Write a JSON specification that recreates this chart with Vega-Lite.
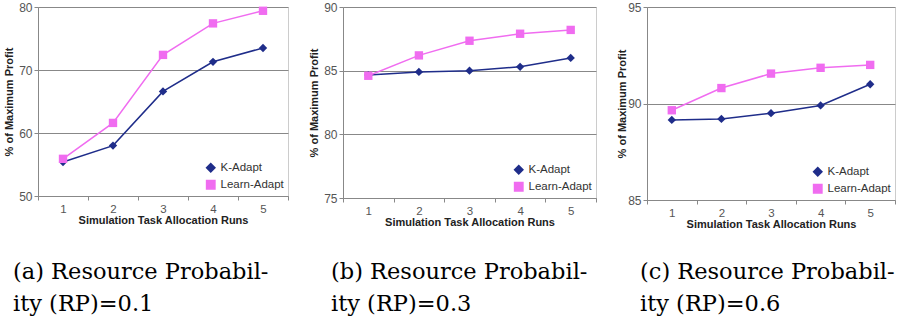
{
  "$schema": "https://vega.github.io/schema/vega-lite/v6.json",
  "background": "white",
  "padding": {"left": 3, "top": 0, "right": 0, "bottom": 0},
  "spacing": 19,
  "config": {
    "font": "Liberation Sans",
    "view": {"stroke": "#cccccc", "strokeWidth": 1},
    "axis": {
      "domainColor": "#888888",
      "tickColor": "#888888",
      "tickSize": 4,
      "labelColor": "#555555",
      "labelFontSize": 12,
      "labelFont": "Liberation Sans",
      "titleFont": "Liberation Sans",
      "titleFontSize": 11,
      "titleFontWeight": "bold",
      "titleColor": "#222222"
    },
    "axisY": {"gridColor": "#888888", "gridOpacity": 1, "gridWidth": 1, "labelPadding": 2, "titlePadding": 4},
    "axisX": {"grid": false, "labelAngle": 0, "labelPadding": 3, "titlePadding": 0, "tickBand": "extent", "labelFontSize": 11.5},
    "legend": {
      "orient": "bottom-right",
      "offset": 4,
      "labelFont": "Liberation Sans",
      "labelFontSize": 11.5,
      "labelColor": "#333333",
      "symbolSize": 70,
      "rowPadding": 2,
      "labelOffset": 4
    }
  },
  "datasets": {
    "a": [
      {"run": 1, "series": "K-Adapt", "value": 55.4},
      {"run": 2, "series": "K-Adapt", "value": 58.0},
      {"run": 3, "series": "K-Adapt", "value": 66.6},
      {"run": 4, "series": "K-Adapt", "value": 71.3},
      {"run": 5, "series": "K-Adapt", "value": 73.5},
      {"run": 1, "series": "Learn-Adapt", "value": 55.9},
      {"run": 2, "series": "Learn-Adapt", "value": 61.6},
      {"run": 3, "series": "Learn-Adapt", "value": 72.4},
      {"run": 4, "series": "Learn-Adapt", "value": 77.4},
      {"run": 5, "series": "Learn-Adapt", "value": 79.4}
    ],
    "b": [
      {"run": 1, "series": "K-Adapt", "value": 84.65},
      {"run": 2, "series": "K-Adapt", "value": 84.9},
      {"run": 3, "series": "K-Adapt", "value": 85.0},
      {"run": 4, "series": "K-Adapt", "value": 85.3},
      {"run": 5, "series": "K-Adapt", "value": 86.0},
      {"run": 1, "series": "Learn-Adapt", "value": 84.6},
      {"run": 2, "series": "Learn-Adapt", "value": 86.2},
      {"run": 3, "series": "Learn-Adapt", "value": 87.35},
      {"run": 4, "series": "Learn-Adapt", "value": 87.9},
      {"run": 5, "series": "Learn-Adapt", "value": 88.2}
    ],
    "c": [
      {"run": 1, "series": "K-Adapt", "value": 89.15},
      {"run": 2, "series": "K-Adapt", "value": 89.2},
      {"run": 3, "series": "K-Adapt", "value": 89.5},
      {"run": 4, "series": "K-Adapt", "value": 89.9},
      {"run": 5, "series": "K-Adapt", "value": 91.0},
      {"run": 1, "series": "Learn-Adapt", "value": 89.65},
      {"run": 2, "series": "Learn-Adapt", "value": 90.8},
      {"run": 3, "series": "Learn-Adapt", "value": 91.55},
      {"run": 4, "series": "Learn-Adapt", "value": 91.85},
      {"run": 5, "series": "Learn-Adapt", "value": 92.0}
    ]
  },
  "resolve": {
    "scale": {"y": "independent", "x": "independent", "color": "independent", "shape": "independent"},
    "legend": {"shape": "independent", "color": "independent"}
  },
  "hconcat": [
    {
      "width": 250, "height": 189,
      "data": {"name": "a"},
      "title": {"text": ["(a) Resource Probabil-", "ity (RP)=0.1"], "orient": "bottom", "anchor": "start", "frame": "group", "dx": -25, "offset": 35, "lineHeight": 32, "font": "DejaVu Serif", "fontSize": 22.5, "fontWeight": "normal", "color": "#000000"},
      "layer": [
        {
          "mark": {"type": "line", "strokeWidth": 1.5},
          "encoding": {
            "x": {"field": "run", "type": "ordinal", "scale": {"type": "band", "paddingInner": 0, "paddingOuter": 0}, "title": "Simulation Task Allocation Runs"},
            "y": {"field": "value", "type": "quantitative", "scale": {"domain": [50, 80], "nice": false, "zero": false}, "axis": {"values": [50, 60, 70, 80]}, "title": "% of Maximum Profit"},
            "color": {"field": "series", "type": "nominal", "scale": {"domain": ["K-Adapt", "Learn-Adapt"], "range": ["#1f2d8a", "#f06cf0"]}, "legend": {"title": null}}
          }
        },
        {
          "mark": {"type": "point", "filled": true, "opacity": 1, "size": 70},
          "encoding": {
            "x": {"field": "run", "type": "ordinal"},
            "y": {"field": "value", "type": "quantitative"},
            "color": {"field": "series", "type": "nominal", "legend": {"title": null}},
            "shape": {"field": "series", "type": "nominal", "scale": {"domain": ["K-Adapt", "Learn-Adapt"], "range": ["diamond", "square"]}, "legend": null}
          }
        }
      ]
    },
    {
      "width": 253, "height": 191,
      "data": {"name": "b"},
      "title": {"text": ["(b) Resource Probabil-", "ity (RP)=0.3"], "orient": "bottom", "anchor": "start", "frame": "group", "dx": -12, "offset": 33, "lineHeight": 32, "font": "DejaVu Serif", "fontSize": 22.5, "fontWeight": "normal", "color": "#000000"},
      "layer": [
        {
          "mark": {"type": "line", "strokeWidth": 1.5},
          "encoding": {
            "x": {"field": "run", "type": "ordinal", "scale": {"type": "band", "paddingInner": 0, "paddingOuter": 0}, "title": "Simulation Task Allocation Runs"},
            "y": {"field": "value", "type": "quantitative", "scale": {"domain": [75, 90], "nice": false, "zero": false}, "axis": {"values": [75, 80, 85, 90]}, "title": "% of Maximum Profit"},
            "color": {"field": "series", "type": "nominal", "scale": {"domain": ["K-Adapt", "Learn-Adapt"], "range": ["#1f2d8a", "#f06cf0"]}, "legend": {"title": null}}
          }
        },
        {
          "mark": {"type": "point", "filled": true, "opacity": 1, "size": 70},
          "encoding": {
            "x": {"field": "run", "type": "ordinal"},
            "y": {"field": "value", "type": "quantitative"},
            "color": {"field": "series", "type": "nominal", "legend": {"title": null}},
            "shape": {"field": "series", "type": "nominal", "scale": {"domain": ["K-Adapt", "Learn-Adapt"], "range": ["diamond", "square"]}, "legend": null}
          }
        }
      ]
    },
    {
      "width": 248, "height": 193,
      "data": {"name": "c"},
      "title": {"text": ["(c) Resource Probabil-", "ity (RP)=0.6"], "orient": "bottom", "anchor": "start", "frame": "group", "dx": -7, "offset": 31, "lineHeight": 32, "font": "DejaVu Serif", "fontSize": 22.5, "fontWeight": "normal", "color": "#000000"},
      "layer": [
        {
          "mark": {"type": "line", "strokeWidth": 1.5},
          "encoding": {
            "x": {"field": "run", "type": "ordinal", "scale": {"type": "band", "paddingInner": 0, "paddingOuter": 0}, "title": "Simulation Task Allocation Runs"},
            "y": {"field": "value", "type": "quantitative", "scale": {"domain": [85, 95], "nice": false, "zero": false}, "axis": {"values": [85, 90, 95], "titlePadding": 0}, "title": "% of Maximum Profit"},
            "color": {"field": "series", "type": "nominal", "scale": {"domain": ["K-Adapt", "Learn-Adapt"], "range": ["#1f2d8a", "#f06cf0"]}, "legend": {"title": null}}
          }
        },
        {
          "mark": {"type": "point", "filled": true, "opacity": 1, "size": 70},
          "encoding": {
            "x": {"field": "run", "type": "ordinal"},
            "y": {"field": "value", "type": "quantitative"},
            "color": {"field": "series", "type": "nominal", "legend": {"title": null}},
            "shape": {"field": "series", "type": "nominal", "scale": {"domain": ["K-Adapt", "Learn-Adapt"], "range": ["diamond", "square"]}, "legend": null}
          }
        }
      ]
    }
  ]
}
